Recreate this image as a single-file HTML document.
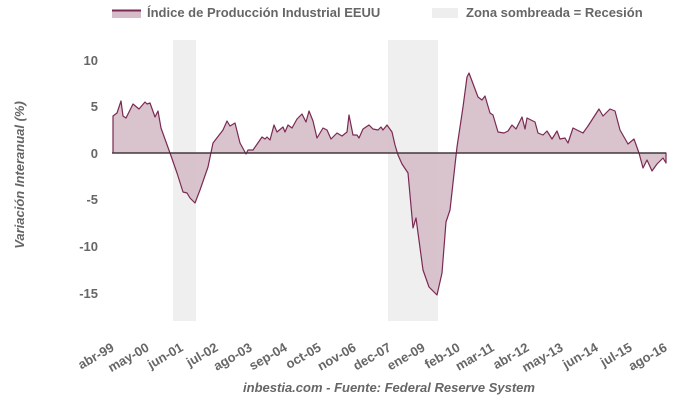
<!DOCTYPE html>
<html><head><meta charset="utf-8"><style>
body{margin:0;background:#fff}
svg text{font-family:"Liberation Sans",sans-serif;font-weight:bold;fill:#666}
</style></head><body>
<svg width="680" height="400" xmlns="http://www.w3.org/2000/svg">
<rect x="112" y="10" width="29" height="8" fill="#d5bcc8"/>
<line x1="112" y1="10.5" x2="141" y2="10.5" stroke="#7a2a52" stroke-width="2"/>
<text x="147" y="17" font-size="13">Índice de Producción Industrial EEUU</text>
<rect x="432" y="8" width="26" height="10" fill="#eeeeee"/>
<text x="466" y="17" font-size="13">Zona sombreada = Recesión</text>
<rect x="173" y="40" width="23" height="281" fill="#efefef"/>
<rect x="388" y="40" width="50" height="281" fill="#efefef"/>
<g font-size="13" text-anchor="end">
<text x="98" y="65">10</text><text x="98" y="111">5</text><text x="98" y="158">0</text>
<text x="98" y="204">-5</text><text x="98" y="251">-10</text><text x="98" y="298">-15</text>
</g>
<text transform="translate(24,175) rotate(-90)" font-size="13" font-style="italic" text-anchor="middle">Variación Interanual (%)</text>
<path fill="#d5bcc8" fill-opacity="0.9" stroke="#7a2a52" stroke-width="1.2" stroke-linejoin="round" d="M113,153 L113,116 117,113 121,101 123,116 126,118 130,110 133,104 139,109 145,102 147,104 150,103 155,117 158,111 161,128 170,153 177,173 183,192 187,193 190,198 195,203 200,190 208,167 213,143 223,130 227,121 230,126 235,123 240,143 246,154 248,150 253,150 262,137 265,139 267,137 270,140 274,125 277,132 283,127 285,132 288,125 292,128 297,119 302,114 306,122 309,111 313,121 317,138 323,128 327,130 331,139 337,133 342,136 347,132 349,115 353,135 357,135 359,138 363,129 369,125 373,129 378,130 381,127 383,130 387,125 392,132 395,145 398,155 402,164 408,173 413,228 416,218 423,270 429,287 437,295 442,273 446,222 450,210 457,147 463,107 467,77 469,73 478,97 482,100 485,96 490,113 493,115 498,132 504,133 508,131 512,125 516,129 522,117 525,129 527,118 535,122 538,133 543,135 547,131 552,139 557,131 560,139 565,138 568,143 573,128 583,133 588,126 599,109 603,116 610,109 615,111 620,130 628,144 634,139 639,153 643,168 647,160 652,171 657,164 663,158 666,163 L666,153 Z"/>
<line x1="112" y1="153" x2="666" y2="153" stroke="#333" stroke-width="1.2"/>
<g font-size="13" text-anchor="end">
<text transform="translate(115,350) rotate(-30)">abr-99</text>
<text transform="translate(150,350) rotate(-30)">may-00</text>
<text transform="translate(184,350) rotate(-30)">jun-01</text>
<text transform="translate(219,350) rotate(-30)">jul-02</text>
<text transform="translate(253,350) rotate(-30)">ago-03</text>
<text transform="translate(288,350) rotate(-30)">sep-04</text>
<text transform="translate(322,350) rotate(-30)">oct-05</text>
<text transform="translate(357,350) rotate(-30)">nov-06</text>
<text transform="translate(392,350) rotate(-30)">dec-07</text>
<text transform="translate(426,350) rotate(-30)">ene-09</text>
<text transform="translate(461,350) rotate(-30)">feb-10</text>
<text transform="translate(495,350) rotate(-30)">mar-11</text>
<text transform="translate(530,350) rotate(-30)">abr-12</text>
<text transform="translate(564,350) rotate(-30)">may-13</text>
<text transform="translate(599,350) rotate(-30)">jun-14</text>
<text transform="translate(633,350) rotate(-30)">jul-15</text>
<text transform="translate(668,350) rotate(-30)">ago-16</text>
</g>
<text x="389" y="392" font-size="13" font-style="italic" text-anchor="middle">inbestia.com - Fuente: Federal Reserve System</text>
</svg>
</body></html>
